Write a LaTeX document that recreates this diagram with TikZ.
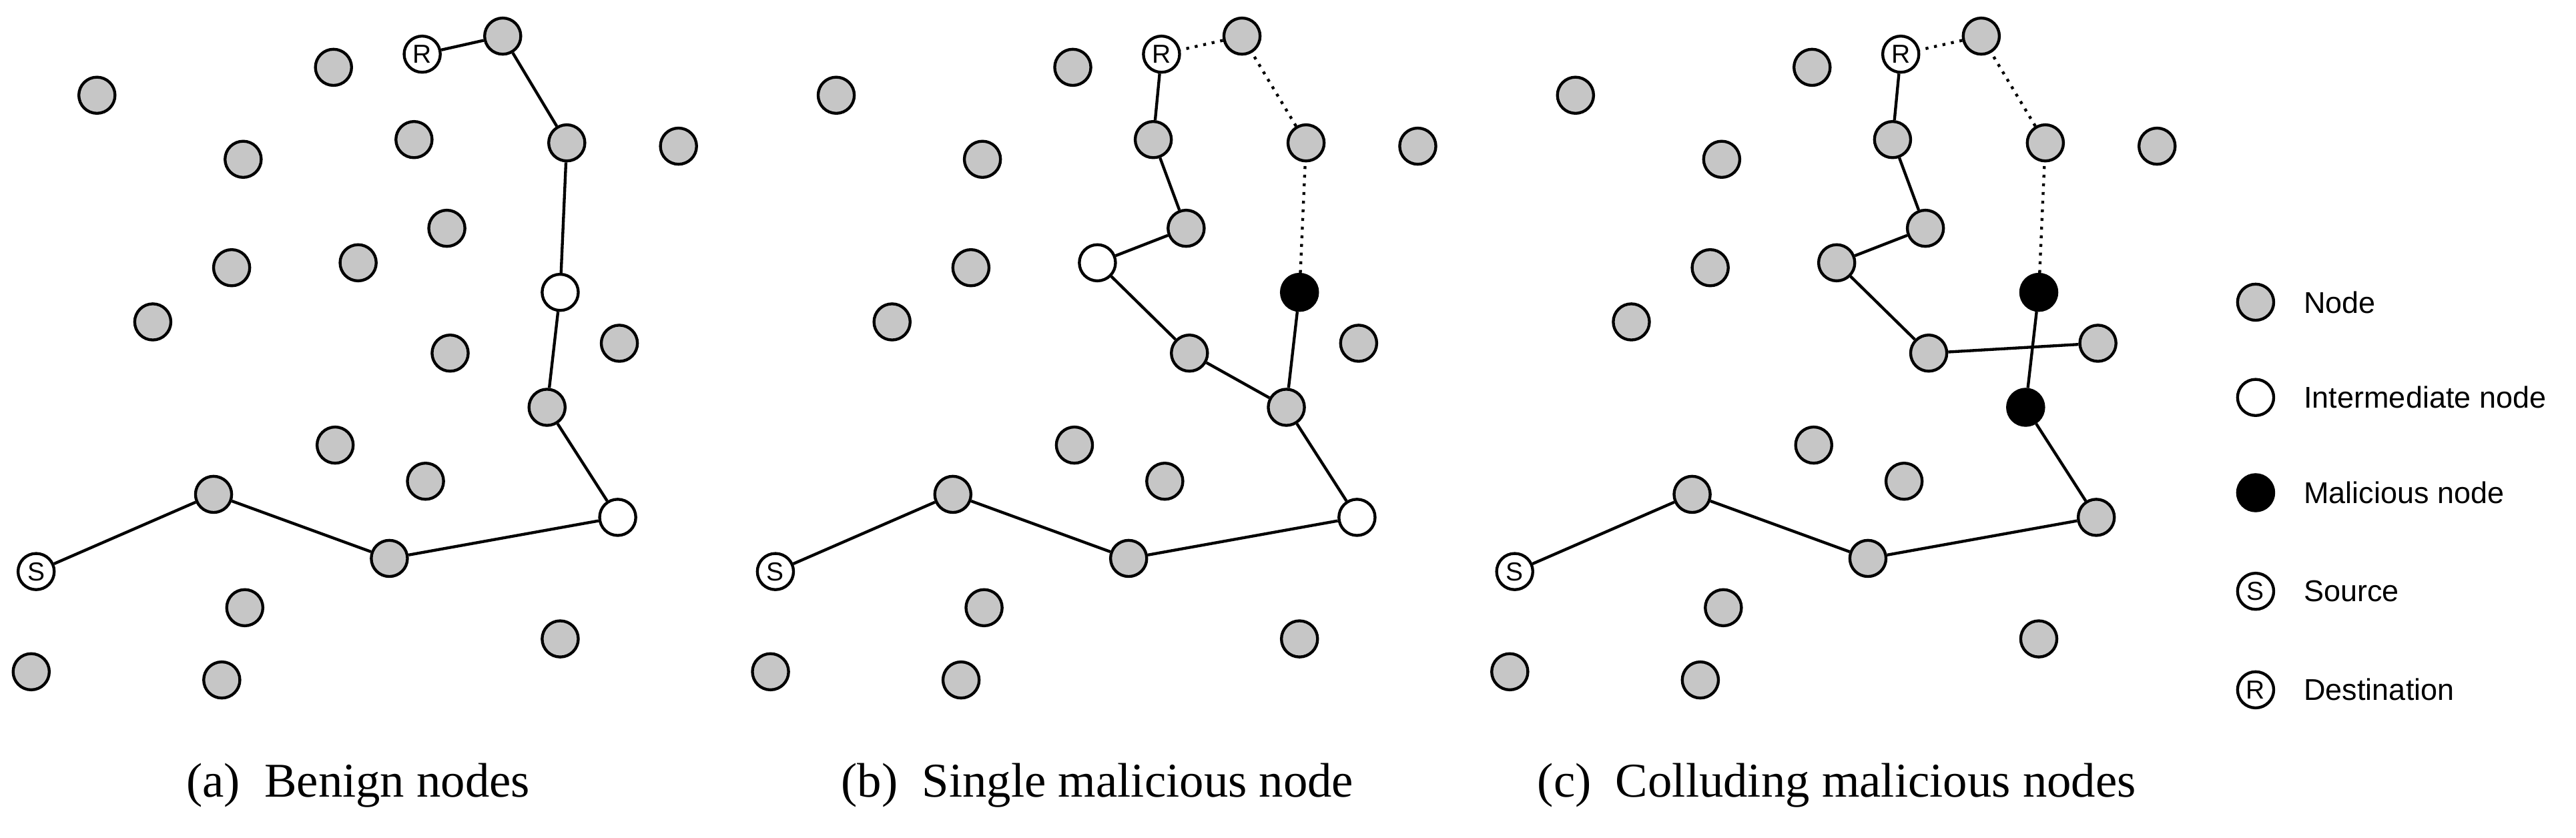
\documentclass[tikz,border=0pt]{standalone}
\usepackage{fontspec}
\setmainfont{Liberation Serif}
\newfontfamily\lsans{Liberation Sans}
\begin{document}
\begin{tikzpicture}[x=0.01cm,y=-0.01cm,
 nd/.style={circle,draw,line width=0.5pt,minimum size=0.22cm,inner sep=0pt},
 g/.style={nd,fill=gray!45},
 w/.style={nd,fill=white},
 b/.style={nd,fill=black},
 sr/.style={nd,fill=white,font=\lsans\fontsize{4.5}{5}\selectfont},
 ln/.style={line width=0.5pt},
 dl/.style={line width=0.5pt,densely dotted},
 captxt/.style={font=\fontsize{8.4}{10}\selectfont},
 lg/.style={font=\lsans\fontsize{5.2}{6}\selectfont,anchor=west}]
\useasboundingbox (0,0) rectangle (1568,510);
\foreach \p/\o in {a/0,b/450,c/900}{
 \begin{scope}[xshift=\o*0.01cm]
 \foreach \i/\x/\y in {1/59/58,2/203/41,3/148/97,4/252/85,5/413/89,6/141/163,7/93/196,8/204/271,9/259/293,10/130/301,11/237/340,12/149/370,13/341/389,14/19/409,15/135/414,16/306/22,17/345/87,18/377/209}
  \node[g] (\p\i) at (\x,\y) {};
 \node[sr] (\p S) at (22,348) {S};
 \node[sr] (\p R) at (257,33) {R};
 \end{scope}
}
% panel a
\node[g] (a20) at (272,139) {};
\node[g] (a21) at (218,160) {};
\node[g] (a22) at (274,215) {};
\node[g] (a23) at (333,248) {};
\node[w] (a24) at (341,178) {};
\node[w] (a25) at (376,315) {};
\draw[ln] (aS)--(a10)--(a11)--(a25)--(a23)--(a24)--(a17)--(a16)--(aR);
% panel b
\node[g] (b20) at (722,139) {};
\node[w] (b21) at (668,160) {};
\node[g] (b22) at (724,215) {};
\node[g] (b23) at (783,248) {};
\node[b] (b24) at (791,178) {};
\node[w] (b25) at (826,315) {};
\draw[ln] (bS)--(b10)--(b11)--(b25)--(b23)--(b22)--(b21)--(b20)--(b4)--(bR);
\draw[ln] (b23)--(b24);
\draw[dl] (b24)--(b17)--(b16)--(bR);
% panel c
\node[g] (c20) at (1172,139) {};
\node[g] (c21) at (1118,160) {};
\node[g] (c22) at (1174,215) {};
\node[b] (c23) at (1233,248) {};
\node[b] (c24) at (1241,178) {};
\node[g] (c25) at (1276,315) {};
\draw[ln] (cS)--(c10)--(c11)--(c25)--(c23)--(c24);
\draw[ln] (c18)--(c22)--(c21)--(c20)--(c4)--(cR);
\draw[dl] (c24)--(c17)--(c16)--(cR);
% legend
\node[g] (l1) at (1373,184) {}; \node[lg] (t1) at (1390,184) {Node};
\node[w] (l2) at (1373,242) {}; \node[lg] (t2) at (1390,242) {Intermediate node};
\node[b] (l3) at (1373,300) {}; \node[lg] (t3) at (1390,300) {Malicious node};
\node[sr] (l4) at (1373,360) {S}; \node[lg] (t4) at (1390,360) {Source};
\node[sr] (l5) at (1373,420) {R}; \node[lg] (t5) at (1390,420) {Destination};
% captions
\node[captxt] (ca) at (218,478) {(a)\ \ Benign nodes};
\node[captxt] (cb) at (668,478) {(b)\ \ Single malicious node};
\node[captxt] (cc) at (1118,478) {(c)\ \ Colluding malicious nodes};
\end{tikzpicture}
\end{document}
